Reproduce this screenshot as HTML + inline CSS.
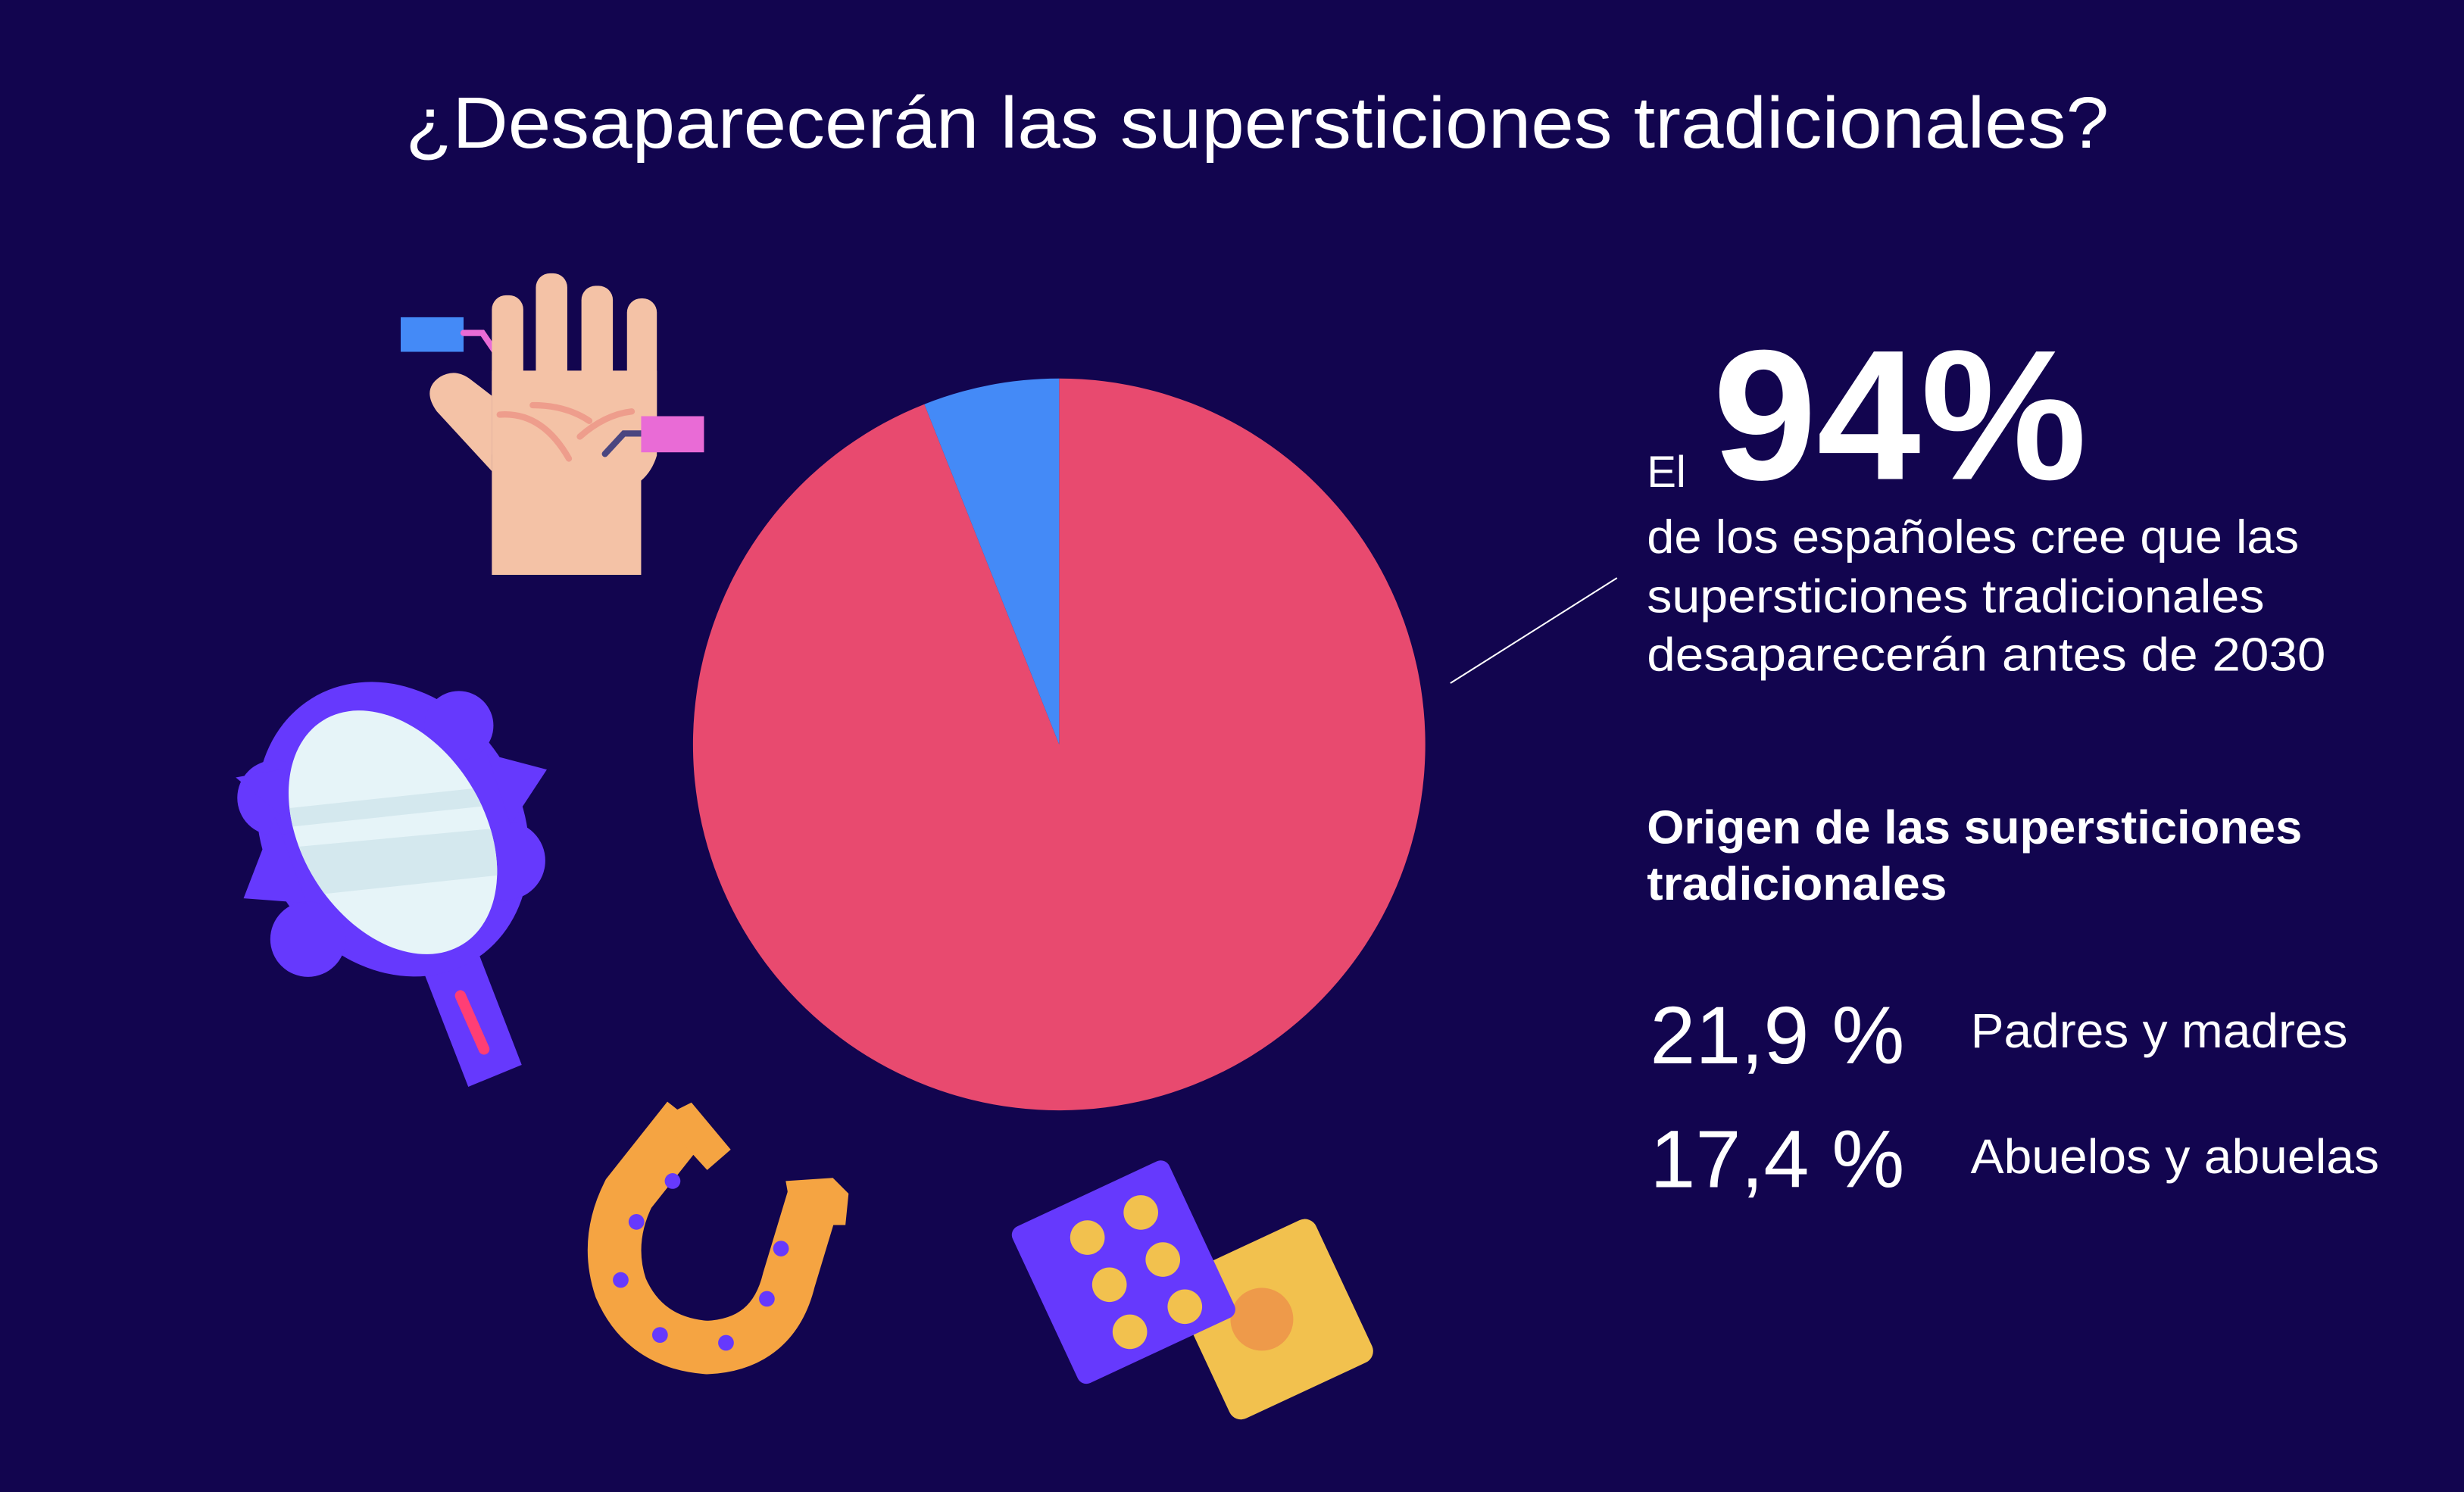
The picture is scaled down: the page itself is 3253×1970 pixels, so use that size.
<!DOCTYPE html>
<html><head><meta charset="utf-8">
<style>
html,body{margin:0;padding:0;background:#12054f;}
svg{display:block;}
text{font-family:"Liberation Sans",sans-serif;fill:#fff;}
</style></head>
<body>
<svg width="3253" height="1970" viewBox="0 0 1568 950" preserveAspectRatio="none">
<rect width="1568" height="950" fill="#12054f"/>
<text x="800" y="94" font-size="46" text-anchor="middle" textLength="1084" lengthAdjust="spacingAndGlyphs">¿Desaparecerán las supersticiones tradicionales?</text>

<g id="pie"></g>

<line x1="923" y1="435" x2="1029" y2="368" stroke="#fff" stroke-width="1"/>

<text x="1048" y="310" font-size="28">El</text>
<text x="1090" y="305" font-size="118" font-weight="bold" textLength="238" lengthAdjust="spacingAndGlyphs">94%</text>
<text x="1048" y="352" font-size="30" textLength="415" lengthAdjust="spacingAndGlyphs">de los españoles cree que las</text>
<text x="1048" y="390" font-size="30" textLength="393" lengthAdjust="spacingAndGlyphs">supersticiones tradicionales</text>
<text x="1048" y="427" font-size="30" textLength="432" lengthAdjust="spacingAndGlyphs">desaparecerán antes de 2030</text>

<text x="1048" y="537" font-size="30" font-weight="bold" textLength="417" lengthAdjust="spacingAndGlyphs">Origen de las supersticiones</text>
<text x="1048" y="573" font-size="30" font-weight="bold" textLength="191" lengthAdjust="spacingAndGlyphs">tradicionales</text>

<text x="1050" y="677" font-size="52" textLength="162" lengthAdjust="spacingAndGlyphs">21,9 %</text>
<text x="1254" y="667" font-size="31" textLength="240" lengthAdjust="spacingAndGlyphs">Padres y madres</text>
<text x="1050" y="756" font-size="52" textLength="162" lengthAdjust="spacingAndGlyphs">17,4 %</text>
<text x="1254" y="747" font-size="31" textLength="260" lengthAdjust="spacingAndGlyphs">Abuelos y abuelas</text>

<!-- hand -->
<g>
<rect x="255" y="202" width="40" height="22" fill="#448af7"/>
<path d="M295 212 H307 L322 234" stroke="#e96bd6" stroke-width="4" fill="none" stroke-linecap="round"/>
<path d="M313 300 L278 262 Q268 248 280 240 Q290 234 300 242 L313 252 Z" fill="#f4c2a6"/>
<rect x="313" y="188" width="20" height="110" rx="9" fill="#f4c2a6"/>
<rect x="341" y="174" width="20" height="110" rx="9" fill="#f4c2a6"/>
<rect x="370" y="182" width="20" height="110" rx="9" fill="#f4c2a6"/>
<rect x="399" y="190" width="19" height="100" rx="9" fill="#f4c2a6"/>
<path d="M313 236 H418 V290 Q415 300 408 306 V366 H313 Z" fill="#f4c2a6"/>
<path d="M318 264 Q345 262 362 292" stroke="#ee9d8c" stroke-width="4" fill="none" stroke-linecap="round"/>
<path d="M339 258 Q360 258 375 268" stroke="#ee9d8c" stroke-width="4" fill="none" stroke-linecap="round"/>
<path d="M369 278 Q385 264 402 262" stroke="#ee9d8c" stroke-width="4" fill="none" stroke-linecap="round"/>
<path d="M385 289 L397 276 H408" stroke="#4a4680" stroke-width="4" fill="none" stroke-linecap="round"/>
<rect x="408" y="265" width="40" height="23" fill="#e96bd6"/>
</g>

<!-- mirror -->
<g>
<path d="M270 620 L298 692 L332 678 L303 603 Z" fill="#6639fd"/>
<path d="M293 634 L308 668" stroke="#ff3e75" stroke-width="7" stroke-linecap="round"/>
<ellipse cx="250" cy="528" rx="82" ry="98" transform="rotate(-32 250 528)" fill="#6639fd"/>
<circle cx="175" cy="508" r="24" fill="#6639fd"/>
<circle cx="196" cy="598" r="24" fill="#6639fd"/>
<circle cx="322" cy="548" r="25" fill="#6639fd"/>
<circle cx="292" cy="462" r="22" fill="#6639fd"/>
<path d="M155 572 L175 520 L195 575 Z M348 490 L310 480 L325 525 Z M150 495 L190 488 L180 520 Z" fill="#6639fd"/>
<ellipse cx="250" cy="530" rx="58" ry="84" transform="rotate(-32 250 530)" fill="#e6f4f8"/>
<clipPath id="mc"><ellipse cx="250" cy="530" rx="58" ry="84" transform="rotate(-32 250 530)"/></clipPath>
<g clip-path="url(#mc)" fill="#d4e8ee">
<path d="M180 515 L320 500 L320 512 L180 527 Z"/>
<path d="M180 540 L320 527 L320 557 L180 572 Z"/>
</g>
</g>

<!-- horseshoe -->
<g>
<path d="M438 712 L400 760 Q385 790 395 820 Q410 855 450 858 Q492 856 502 815 L518 762" stroke="#f5a442" stroke-width="34" fill="none"/>
<path d="M420 712 L440 702 L465 732 L450 745 Z" fill="#f5a442"/>
<path d="M500 752 L530 750 L540 760 L538 780 L505 780 Z" fill="#f5a442"/>
<g fill="#6639fd">
<circle cx="428" cy="752" r="5"/><circle cx="405" cy="778" r="5"/><circle cx="395" cy="815" r="5"/>
<circle cx="420" cy="850" r="5"/><circle cx="462" cy="855" r="5"/><circle cx="488" cy="827" r="5"/><circle cx="497" cy="795" r="5"/>
</g>
</g>

<!-- dice -->
<g>
<rect x="760" y="790" width="100" height="100" rx="8" fill="#f2c14e" transform="rotate(-25 810 840)"/>
<circle cx="803" cy="840" r="20" fill="#ee9a4a"/>
<rect x="660" y="755" width="110" height="110" rx="6" fill="#6639fd" transform="rotate(-25 715 810)"/>
<g fill="#f2c14e">
<circle cx="692" cy="788" r="11"/><circle cx="726" cy="772" r="11"/>
<circle cx="706" cy="818" r="11"/><circle cx="740" cy="802" r="11"/>
<circle cx="719" cy="848" r="11"/><circle cx="754" cy="832" r="11"/>
</g>
</g>

<script>
const categories = ["Desaparecerán", "No desaparecerán"];
const values = [94, 6];
const colors = ["#e84a6f", "#448af7"];
(function(){
  const g = document.getElementById('pie');
  const cx = 674, cy = 474, r = 233;
  const total = values.reduce((a,b)=>a+b,0);
  let a0 = 0;
  for (let i = 0; i < values.length; i++) {
    const a1 = a0 + values[i] / total * 2 * Math.PI;
    const x0 = cx + r * Math.sin(a0), y0 = cy - r * Math.cos(a0);
    const x1 = cx + r * Math.sin(a1), y1 = cy - r * Math.cos(a1);
    const large = (a1 - a0) > Math.PI ? 1 : 0;
    const p = document.createElementNS('http://www.w3.org/2000/svg', 'path');
    p.setAttribute('d', `M${cx} ${cy} L${x0} ${y0} A${r} ${r} 0 ${large} 1 ${x1} ${y1} Z`);
    p.setAttribute('fill', colors[i]);
    
    
    g.appendChild(p);
    a0 = a1;
  }
})();
</script>
</svg>
</body></html>
